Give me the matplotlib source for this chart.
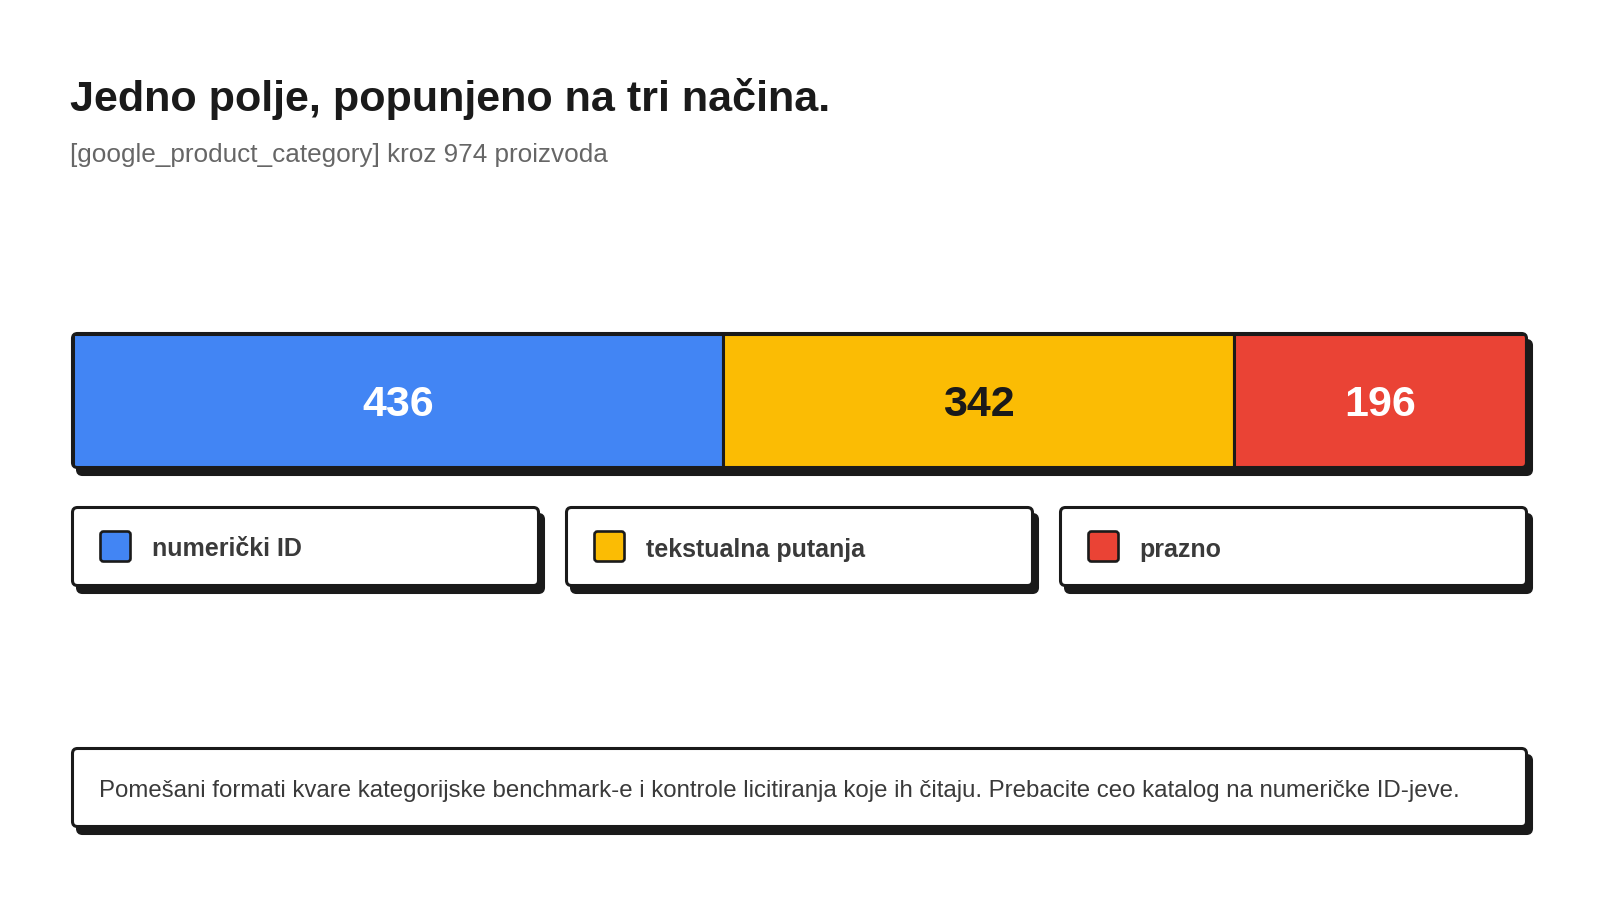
import matplotlib.pyplot as plt
from matplotlib.patches import FancyBboxPatch

plt.rcParams['font.family'] = ['Liberation Sans', 'DejaVu Sans']

# podaci
categories = ['numerički ID', 'tekstualna putanja', 'prazno']
counts = [436, 342, 196]
colors = ['#4285F4', '#FBBC04', '#EA4335']
label_colors = ['white', '#1a1a1a', 'white']

title = 'Jedno polje, popunjeno na tri načina.'
subtitle = '[google_product_category] kroz 974 proizvoda'
note = ('Pomešani formati kvare kategorijske benchmark-e i kontrole licitiranja '
        'koje ih čitaju. Prebacite ceo katalog na numeričke ID-jeve.')

DARK = '#1a1a1a'
LW = 2.2
W, H = 1600, 900
SX, SY = 5, 7  # pomak senke

fig = plt.figure(figsize=(16, 9), dpi=100)
canvas = fig.add_axes([0, 0, 1, 1])
canvas.set_xlim(0, W)
canvas.set_ylim(H, 0)
canvas.axis('off')


def card(x, y, w, h, face='white', r=5, zorder=1):
    shadow = FancyBboxPatch((x + SX, y + SY), w, h, boxstyle=f'round,pad=0,rounding_size={r}',
                            fc=DARK, ec=DARK, lw=LW, zorder=zorder)
    box = FancyBboxPatch((x, y), w, h, boxstyle=f'round,pad=0,rounding_size={r}',
                         fc=face, ec=DARK, lw=LW, zorder=zorder + 1)
    canvas.add_patch(shadow)
    canvas.add_patch(box)
    return box


# naslov
canvas.text(70, 111, title, fontsize=31.1, fontweight='bold', color=DARK, va='baseline')
canvas.text(70, 162, subtitle, fontsize=18.8, color='#666666', va='baseline')

# traka
bx0, bx1, by0, by1 = 72.5, 1526.5, 333.5, 467.5
canvas.add_patch(FancyBboxPatch((bx0 + SX, by0 + SY), bx1 - bx0, by1 - by0,
                                boxstyle='round,pad=0,rounding_size=5', fc=DARK, ec=DARK, lw=LW))

ax = fig.add_axes([bx0 / W, 1 - by1 / H, (bx1 - bx0) / W, (by1 - by0) / H])
ax.axis('off')
total = sum(counts)
starts = [sum(counts[:i]) for i in range(len(counts))]
bars = ax.barh(0, counts, left=starts, height=1, color=colors, edgecolor=DARK, lw=LW)
ax.set_xlim(0, total)
ax.set_ylim(-0.5, 0.5)

clip = FancyBboxPatch((bx0, by0), bx1 - bx0, by1 - by0, boxstyle='round,pad=0,rounding_size=5',
                      transform=canvas.transData, fc='none', ec='none')
for b in bars:
    b.set_clip_path(clip)
frame = FancyBboxPatch((bx0, by0), bx1 - bx0, by1 - by0, boxstyle='round,pad=0,rounding_size=5',
                       transform=canvas.transData, fc='none', ec=DARK, lw=LW, zorder=5, clip_on=False)
ax.add_patch(frame)

for s, c, tc in zip(starts, counts, label_colors):
    ax.text(s + c / 2, 0, str(c), ha='center', va='center_baseline', fontsize=31,
            fontweight='bold', color=tc)

# legenda
gap = 28
lw_card = (bx1 - bx0 - 2 * gap) / 3
for i, (cat, col) in enumerate(zip(categories, colors)):
    x = bx0 + i * (lw_card + gap)
    card(x, 507.5, lw_card, 78)
    canvas.add_patch(FancyBboxPatch((x + 28, 531.5), 30, 30, boxstyle='round,pad=0,rounding_size=3',
                                    fc=col, ec=DARK, lw=1.9, zorder=4))
    canvas.text(x + 79, 547, cat, fontsize=18, fontweight='bold', color='#3a3a3a',
                va='center_baseline', zorder=5)

# napomena
card(bx0, 748.5, bx1 - bx0, 78)
canvas.text(99, 788, note, fontsize=17.3, color='#3a3a3a', va='center_baseline', zorder=5)

fig.savefig('out.png', dpi=100, facecolor='white')
